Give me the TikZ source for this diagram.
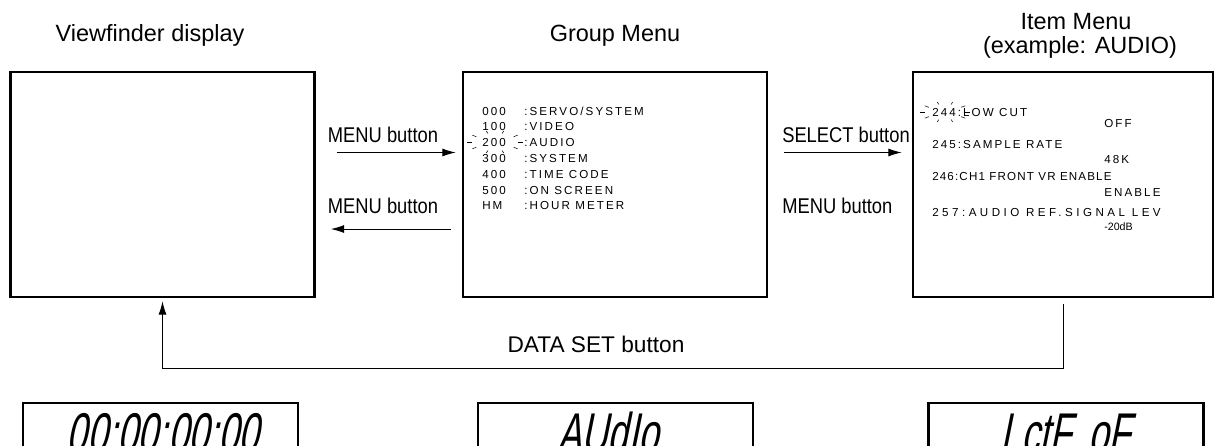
\documentclass[tikz,border=0pt]{standalone}
\usepackage{fontspec}
\setmainfont{Liberation Sans}
\newfontfamily\labelfont{Liberation Sans}[FakeStretch=0.86]
\newfontfamily\osdfont{Liberation Sans}[LetterSpace=18]
\newfontfamily\lcdfont{Liberation Sans}[FakeStretch=0.65,FakeSlant=0.2]
\usetikzlibrary{arrows.meta,positioning,calc}

\begin{document}
\begin{tikzpicture}[x=0.75pt,y=-0.75pt,
  screen/.style={draw,line width=2pt,minimum width=228pt,minimum height=168.75pt,inner sep=0pt},
  lcdbox/.style={draw,line width=1.8pt,minimum width=206pt,minimum height=45pt,inner sep=0pt},
  title/.style={font=\fontsize{17.6}{20}\selectfont,inner sep=0pt,anchor=base},
  btn/.style={font=\labelfont\fontsize{16}{19}\selectfont,inner sep=0pt,anchor=base},
  osd/.style={font=\osdfont\fontsize{8.7}{10}\selectfont,inner sep=0pt,anchor=base west},
  lcd/.style={font=\lcdfont\fontsize{42}{48}\selectfont,inner sep=0pt,anchor=base},
  arr/.style={-{Latex[length=10pt,width=6pt]},line width=0.7pt},
  spark/.style={line width=0.4pt}]
  \useasboundingbox (0,0) rectangle (1215,446);

  % Screens
  \node[screen] (vf) at (162.5,184.5) {};
  \node[screen] (grp) at (615,184.5) {};
  \node[screen,minimum width=225pt] (itm) at (1063,184.5) {};

  % Titles
  \node[title] (vft) at (150,41) {Viewfinder display};
  \node[title] (grpt) at (615,41) {Group Menu};
  \node[title] (itmt) at (1076,30) {Item Menu};
  \node[title] (itmt2) at (1080,53) {(example: AUDIO)};

  % Group menu
  \foreach \n/\t [count=\i from 0] in {000/{SERVO/SYSTEM},100/VIDEO,200/AUDIO,300/SYSTEM,400/{TIME CODE},500/{ON SCREEN},HM/{HOUR METER}} {
    \node[osd] (gn\i) at (482,115+15.8*\i) {\n};
    \node[osd] (gt\i) at (524,115+15.8*\i) {:\t};
  }
  \foreach \a in {0,36,...,324}
    \draw[spark] (495,142) ++(\a:23 and 9) -- ++(\a:5 and 2.5);

  % Item menu
  \node[osd] (it1) at (932,116) {244:LOW CUT};
  \node[osd] (iv1) at (1104,127) {OFF};
  \node[osd] (it2) at (932,148) {245:SAMPLE RATE};
  \node[osd] (iv2) at (1104,163) {48K};
  \node[osd,font=\osdfont\addfontfeature{LetterSpace=10}\fontsize{8.7}{10}\selectfont] (it3) at (932,180) {246:CH1 FRONT VR ENABLE};
  \node[osd] (iv3) at (1104,196) {ENABLE};
  \node[osd,font=\osdfont\addfontfeature{LetterSpace=30}\fontsize{8.7}{10}\selectfont] (it4) at (932,216) {257:AUDIO REF.SIGNAL LEV};
  \node[osd,font=\fontsize{8}{10}\selectfont] (iv4) at (1104,230) {-20dB};
  \foreach \a in {0,36,...,324}
    \draw[spark] (945,112) ++(\a:20 and 8) -- ++(\a:5 and 2.5);

  % Buttons
  \node[btn] (menu1) at (383,142) {MENU button};
  \node[btn] (menu2) at (383,213) {MENU button};
  \node[btn,anchor=base west] (sel) at (782,142) {SELECT button};
  \node[btn,anchor=base west] (menu3) at (782,213) {MENU button};
  \node[btn,font=\fontsize{17}{20}\selectfont] (dset) at (596,352) {DATA SET button};

  \draw[arr,shorten <=15.75pt,shorten >=4.5pt] ([yshift=24pt]vf.east) -- ([yshift=24pt]grp.west);
  \draw[arr,shorten <=8.25pt,shorten >=11.25pt] ([yshift=-33.4pt]grp.west) -- ([yshift=-33.4pt]vf.east);
  \draw[arr,shorten <=12pt,shorten >=7.5pt] ([yshift=24pt]grp.east) -- ([yshift=24pt]itm.west);
  \draw[arr,shorten <=4.5pt,shorten >=2.25pt] (itm.south) -- ++(0,70) -| (vf.south);

  % Time code displays
  \node[lcdbox] (lcd1) at (160.5,433) {};
  \node[lcdbox] (lcd2) at (615.5,433) {};
  \node[lcdbox] (lcd3) at (1066,433) {};
  \node[lcd] (tc1) at (163,452) {00:00:00:00};
  \node[lcd] (tc2) at (608,452) {AUdIo};
  \node[lcd] (tc3) at (1066,452) {LctF\hspace{0.3em}oF};
\end{tikzpicture}
\end{document}
